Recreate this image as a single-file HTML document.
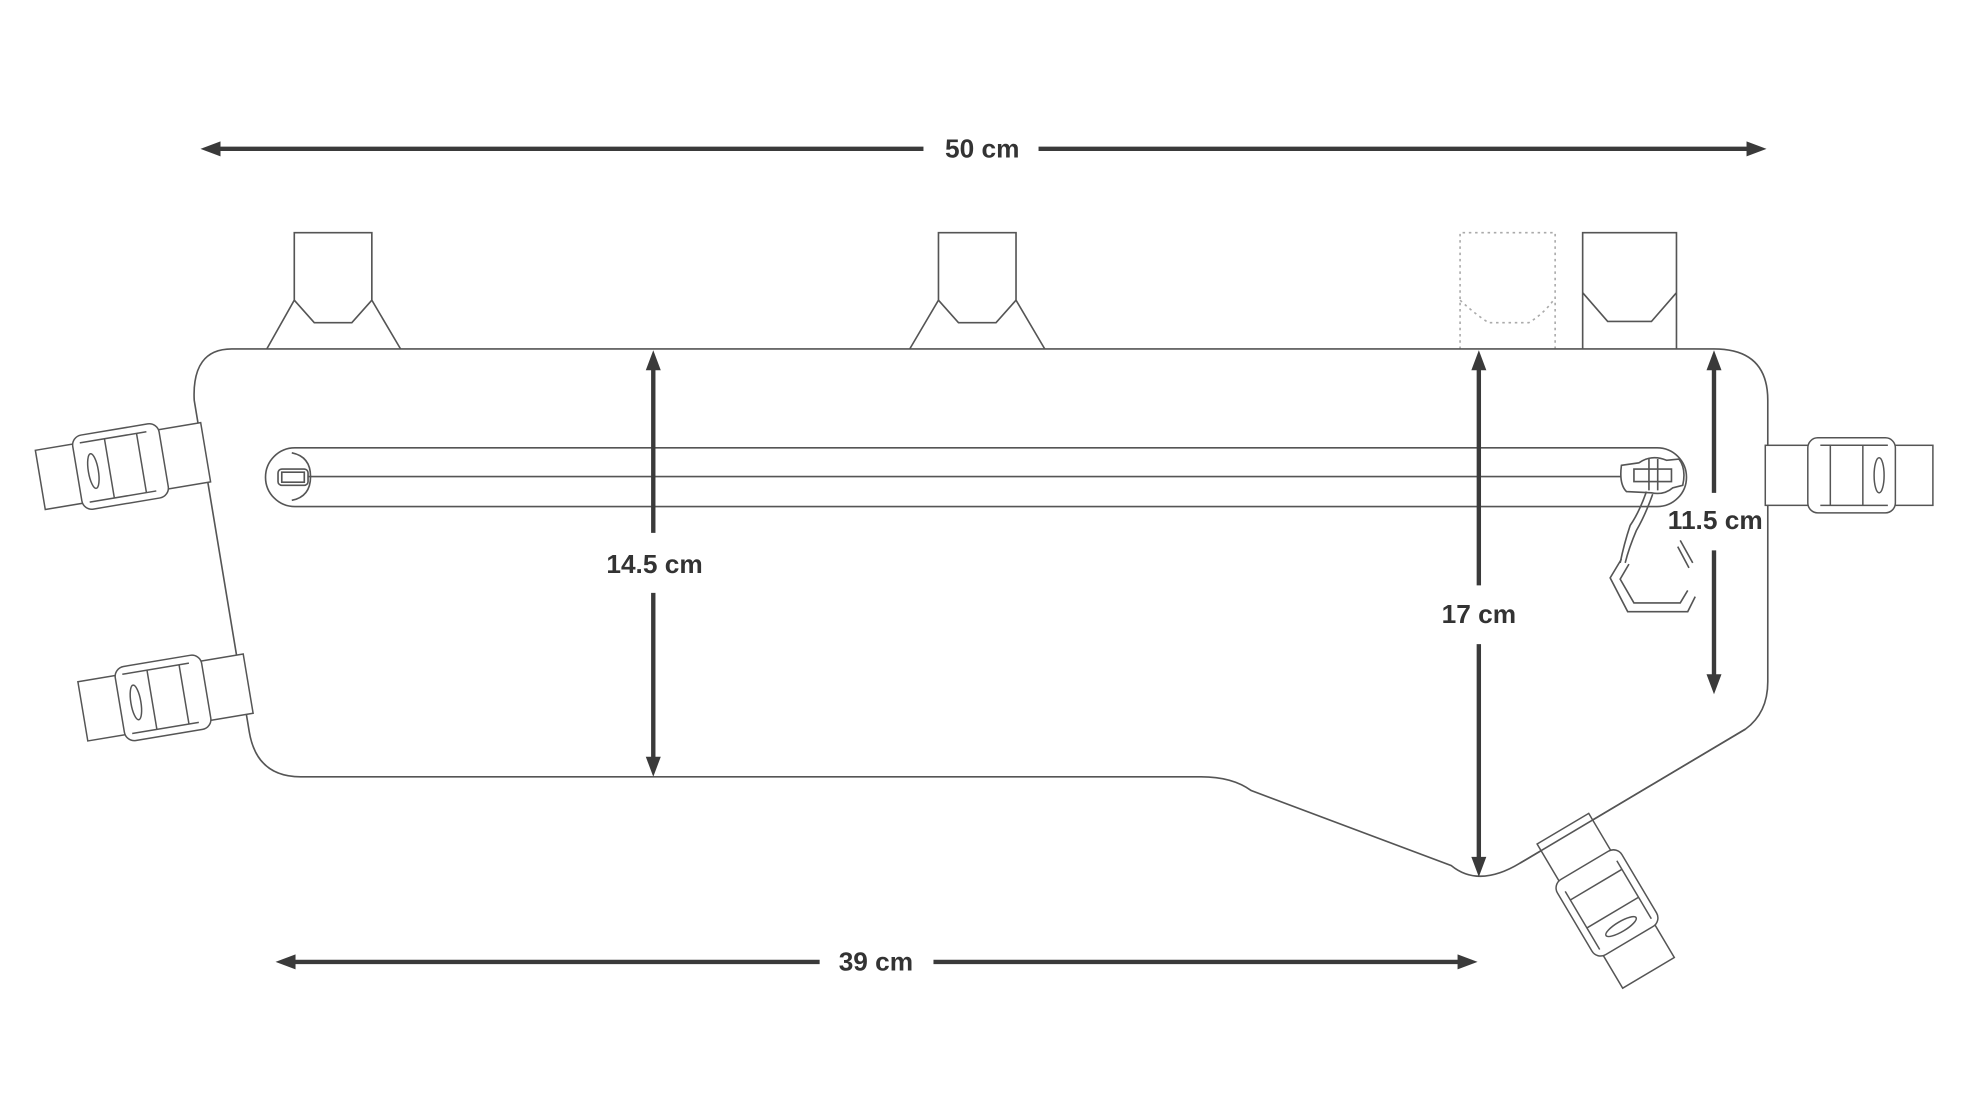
<!DOCTYPE html>
<html><head><meta charset="utf-8"><style>
html,body{margin:0;padding:0;background:#fff;}
svg{display:block;}
text{font-family:"Liberation Sans",Arial,sans-serif;font-weight:bold;fill:#333;font-size:21px;}
</style></head><body>
<svg width="1962" height="1107" viewBox="0 0 1568 885" xmlns="http://www.w3.org/2000/svg">
<defs>
<g id="buckleL">
  <rect x="0" y="0" width="134" height="48" fill="#fff" stroke="#555" stroke-width="1.2"/>
  <rect x="30" y="-6" width="70" height="60" rx="8" fill="#fff" stroke="#555" stroke-width="1.2"/>
  <line x1="56" y1="0" x2="56" y2="48" stroke="#555" stroke-width="1.2"/>
  <line x1="82" y1="0" x2="82" y2="48" stroke="#555" stroke-width="1.2"/>
  <line x1="36" y1="0" x2="90" y2="0" stroke="#555" stroke-width="1.2"/>
  <line x1="36" y1="48" x2="90" y2="48" stroke="#555" stroke-width="1.2"/>
  <ellipse cx="43" cy="24" rx="4" ry="14" fill="none" stroke="#555" stroke-width="1.2"/>
</g>
</defs>
<g fill="none" stroke="#555" stroke-width="1.3">
<path d="M213,279 L235,240 L235,186 L297,186 L297,240 L320,279"/>
<path d="M235,240 L251,258 L281,258 L297,240"/>
<path d="M727,279 L750,240 L750,186 L812,186 L812,240 L835,279"/>
<path d="M750,240 L766,258 L796,258 L812,240"/>
<path d="M1167,279 L1167,186 L1243,186 L1243,279 M1167,240 Q1180,252 1190,258 L1222,258 Q1235,250 1243,238" stroke="#aaa" stroke-dasharray="2,3"/>
<path d="M1265,279 L1265,186 L1340,186 L1340,279 M1265,234 L1285,257 L1320,257 L1340,234"/>
<path d="M185,279 L1370,279 Q1413,279 1413,320 L1413,545 Q1413,570 1395,583 L1215,690 Q1182,710 1160,692 L1000,632 Q985,621 960,621 L240,621 Q205,621 199,585 L155,320 Q153,279 185,279 Z" fill="#fff"/>
<rect x="212" y="358" width="1136" height="47" rx="23.5"/>
<line x1="246" y1="381" x2="1300" y2="381"/>
<path d="M233,362 Q248,365 248,381 Q248,397 233,400"/>
<rect x="222" y="375" width="24" height="13" rx="3"/>
<rect x="225" y="377.5" width="18" height="8"/>
<path d="M1296,372 L1310,370 Q1320,363 1332,368 L1342,367 Q1348,375 1345,388 L1337,390 Q1330,396 1320,394 L1300,393 Q1294,387 1296,372 Z" fill="#fff"/>
<rect x="1306" y="375" width="30" height="10" fill="#fff"/>
<path d="M1318,367 L1318,392 M1325,367 L1325,392"/>
<path d="M1316,393 Q1310,410 1303,420 Q1298,435 1295,450 M1321,395 Q1315,412 1308,424 Q1302,438 1299,450"/>
<path d="M1296,447 L1287,462 L1301,489 L1349,489 L1355,477 M1302,451 L1295,463 L1306,482 L1343,482 L1349,472"/>
<path d="M1343,432 L1353,450 M1341,437 L1350,454"/>
</g>
<g transform="translate(28,360) rotate(-9.5)"><use href="#buckleL"/></g>
<g transform="translate(62,545) rotate(-9.5)"><use href="#buckleL"/></g>
<g transform="translate(1545,356) scale(-1,1)"><use href="#buckleL"/></g>
<g transform="translate(1297,790) rotate(-120.7)"><use href="#buckleL"/></g>
<path d="M1395,583 L1215,690" fill="none" stroke="#555" stroke-width="1.3"/>
<g stroke="#3a3a3a" stroke-width="3.5" fill="#3a3a3a">
<line x1="172" y1="119" x2="738" y2="119"/><line x1="830" y1="119" x2="1400" y2="119"/>
<path d="M160,119 L176,113 L176,125 Z" stroke="none"/><path d="M1412,119 L1396,113 L1396,125 Z" stroke="none"/>
<line x1="232" y1="769" x2="655" y2="769"/><line x1="746" y1="769" x2="1168" y2="769"/>
<path d="M220,769 L236,763 L236,775 Z" stroke="none"/><path d="M1181,769 L1165,763 L1165,775 Z" stroke="none"/>
<line x1="522" y1="292" x2="522" y2="426"/><line x1="522" y1="474" x2="522" y2="608"/>
<path d="M522,280 L516,296 L528,296 Z" stroke="none"/><path d="M522,621 L516,605 L528,605 Z" stroke="none"/>
<line x1="1182" y1="292" x2="1182" y2="468"/><line x1="1182" y1="515" x2="1182" y2="688"/>
<path d="M1182,280 L1176,296 L1188,296 Z" stroke="none"/><path d="M1182,701 L1176,685 L1188,685 Z" stroke="none"/>
<line x1="1370" y1="292" x2="1370" y2="394"/><line x1="1370" y1="440" x2="1370" y2="542"/>
<path d="M1370,280 L1364,296 L1376,296 Z" stroke="none"/><path d="M1370,555 L1364,539 L1376,539 Z" stroke="none"/>
</g>
<text x="785" y="126" text-anchor="middle">50 cm</text>
<text x="523" y="458" text-anchor="middle">14.5 cm</text>
<text x="1182" y="498" text-anchor="middle">17 cm</text>
<text x="1371" y="423" text-anchor="middle">11.5 cm</text>
<text x="700" y="776" text-anchor="middle">39 cm</text>
</svg>
</body></html>
